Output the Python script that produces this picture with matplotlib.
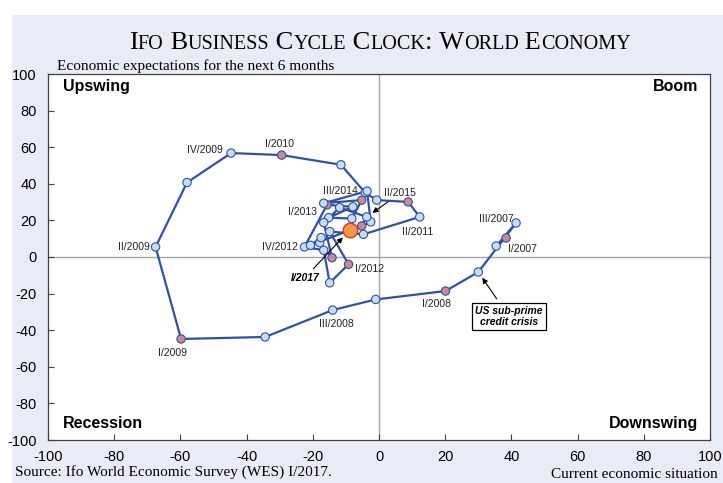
import matplotlib
matplotlib.use("Agg")
import matplotlib.pyplot as plt
from matplotlib.patches import Rectangle

plt.rcParams["axes.unicode_minus"] = False

# Ifo business cycle clock: world economy, I/2007 - I/2017
quarters = ["I/2007", "II/2007", "III/2007", "IV/2007",
            "I/2008", "II/2008", "III/2008", "IV/2008",
            "I/2009", "II/2009", "III/2009", "IV/2009",
            "I/2010", "II/2010", "III/2010", "IV/2010",
            "I/2011", "II/2011", "III/2011", "IV/2011",
            "I/2012", "II/2012", "III/2012", "IV/2012",
            "I/2013", "II/2013", "III/2013", "IV/2013",
            "I/2014", "II/2014", "III/2014", "IV/2014",
            "I/2015", "II/2015", "III/2015", "IV/2015",
            "I/2016", "II/2016", "III/2016", "IV/2016",
            "I/2017"]
situation = [38.4, 35.4, 41.4, 30.0,
             20.1, -1.0, -14.0, -34.4,
             -59.8, -67.5, -58.0, -44.7,
             -29.4, -11.5, -4.2, -0.7,
             8.8, 12.3, -4.7, -14.9,
             -9.2, -14.9, -16.7, -22.5,
             -15.7, -7.9, -15.2, -8.2,
             -5.2, -16.7, -3.6, -2.5,
             -5.2, -3.7, -11.9, -16.7,
             -14.2, -17.9, -17.5, -20.7,
             -8.9]
expectations = [10.4, 6.0, 18.6, -8.2,
                -18.6, -23.2, -29.0, -43.7,
                -44.8, 5.5, 40.7, 56.8,
                55.7, 50.4, 35.2, 31.1,
                30.1, 21.9, 12.4, 13.9,
                -4.0, -14.1, 3.7, 5.5,
                28.5, 27.4, 21.5, 21.0,
                31.1, 29.4, 36.0, 19.2,
                17.0, 21.9, 27.0, 18.8,
                -0.4, 7.8, 10.6, 6.4,
                14.6]

LINE = "#3050AA"
BLUE_FILL = "#C4DEF4"
PINK_FILL = "#C98A8C"
SANS = "Liberation Sans"
SERIF = "Liberation Serif"

fig = plt.figure(figsize=(7.23, 4.83), dpi=100)
fig.patch.set_facecolor("white")
# lavender panel behind the chart
fig.patches.append(Rectangle((12 / 723, 0), 1, (483 - 15) / 483, transform=fig.transFigure,
                             facecolor="#E9ECF7", edgecolor="none", zorder=-10))

ax = fig.add_axes([48 / 723, 43 / 483, 662 / 723, 366 / 483])
ax.set_facecolor("white")
ax.set_xlim(-100, 100)
ax.set_ylim(-100, 100)
ax.set_xticks(range(-100, 101, 20))
ax.set_yticks(range(-100, 101, 20))
ax.tick_params(direction="in", length=4, width=0.8, labelsize=10.5, color="#404040")
ax.tick_params(axis="x", pad=7)
ax.tick_params(axis="y", pad=8)
for lab in ax.get_xticklabels() + ax.get_yticklabels():
    lab.set_family(SANS)
for sp in ax.spines.values():
    sp.set_color("#404040")
    sp.set_linewidth(0.9)
ax.axhline(0, color="#A6A6A6", lw=1, zorder=1)
ax.axvline(0, color="#A6A6A6", lw=1, zorder=1)

# path and markers
ax.plot(situation, expectations, "-", color=LINE, lw=1.6, zorder=2)
fills = [PINK_FILL if q.startswith("I/") else BLUE_FILL for q in quarters[:-1]]
ax.scatter(situation[:-1], expectations[:-1], s=36, c=fills, edgecolors=LINE,
           linewidths=0.8, zorder=3)
ax.scatter(situation[-1:], expectations[-1:], s=110, c="#F79646", edgecolors="#E2341C",
           linewidths=1.0, zorder=4)

# quarter labels: (index, dx, dy in points, alignment)
labels = [(0, 12, -8, "center"), (2, -14, 3, "center"), (4, -6.5, -9.5, "center"),
          (6, 3, -10, "center"), (8, -6, -10, "center"), (9, -4, 0, "right"),
          (11, -6, 2, "right"), (12, -1.5, 8, "center"), (17, -1.5, -11, "center"),
          (20, 5, -3.5, "left"), (23, -5, 0, "right"), (24, -7, -5, "right"),
          (30, -7, 0, "right")]
for i, dx, dy, ha in labels:
    ax.annotate(quarters[i], (situation[i], expectations[i]), xytext=(dx, dy),
                textcoords="offset points", ha=ha, va="center", fontsize=7.5,
                family=SANS, color="#222222", zorder=5)

arrow = dict(arrowstyle="-|>", color="black", lw=0.8, mutation_scale=8, shrinkA=1, shrinkB=5)
ax.annotate("II/2015", (situation[33], expectations[33]), xytext=(24, 17),
            textcoords="offset points", ha="center", va="center", fontsize=7.5,
            family=SANS, color="#222222", arrowprops=arrow, zorder=5)
ax.annotate("I/2017", (situation[40], expectations[40]), xytext=(-32, -34),
            textcoords="offset points", ha="center", va="center", fontsize=7.5,
            family=SANS, weight="bold", style="italic", arrowprops=dict(arrow, shrinkB=7), zorder=5)
ax.annotate("US sub-prime\ncredit crisis", (situation[3], expectations[3]), xytext=(22, -32),
            textcoords="offset points", ha="center", va="center", fontsize=7.5,
            family=SANS, weight="bold", style="italic", linespacing=1.15,
            bbox=dict(boxstyle="square,pad=0.3", fc="white", ec="black", lw=0.9),
            arrowprops=dict(arrow, shrinkA=3), zorder=5)

# quadrant names
quad = dict(fontsize=11.5, family=SANS, weight="bold", transform=ax.transAxes, va="center")
ax.text(0.023, 0.9645, "Upswing", ha="left", **quad)
ax.text(0.982, 0.9645, "Boom", ha="right", **quad)
ax.text(0.023, 0.044, "Recession", ha="left", **quad)
ax.text(0.982, 0.044, "Downswing", ha="right", **quad)

# title in small caps
runs = [("I", 19), ("FO", 14.5), (" B", 19), ("USINESS", 14.5), (" C", 19), ("YCLE", 14.5),
        (" C", 19), ("LOCK", 14.5), (":", 19), (" W", 19), ("ORLD", 14.5),
        (" E", 19), ("CONOMY", 14.5)]
renderer = fig.canvas.get_renderer()
texts = [fig.text(0, 0.8986, s, fontsize=size, family=SERIF, va="baseline", ha="left")
         for s, size in runs]
widths = [t.get_window_extent(renderer).width for t in texts]
xpos = 380 - sum(widths) / 2
for t, w in zip(texts, widths):
    t.set_x(xpos / 723)
    xpos += w

fig.text(57 / 723, 0.855, "Economic expectations for the next 6 months", fontsize=11,
         family=SERIF, va="baseline", ha="left")
fig.text(15 / 723, 0.015, "Source: Ifo World Economic Survey (WES) I/2017.", fontsize=11,
         family=SERIF, va="baseline", ha="left")
fig.text(718 / 723, 0.011, "Current economic situation", fontsize=11,
         family=SERIF, va="baseline", ha="right")

fig.savefig("out.png", dpi=100, facecolor=fig.get_facecolor())
